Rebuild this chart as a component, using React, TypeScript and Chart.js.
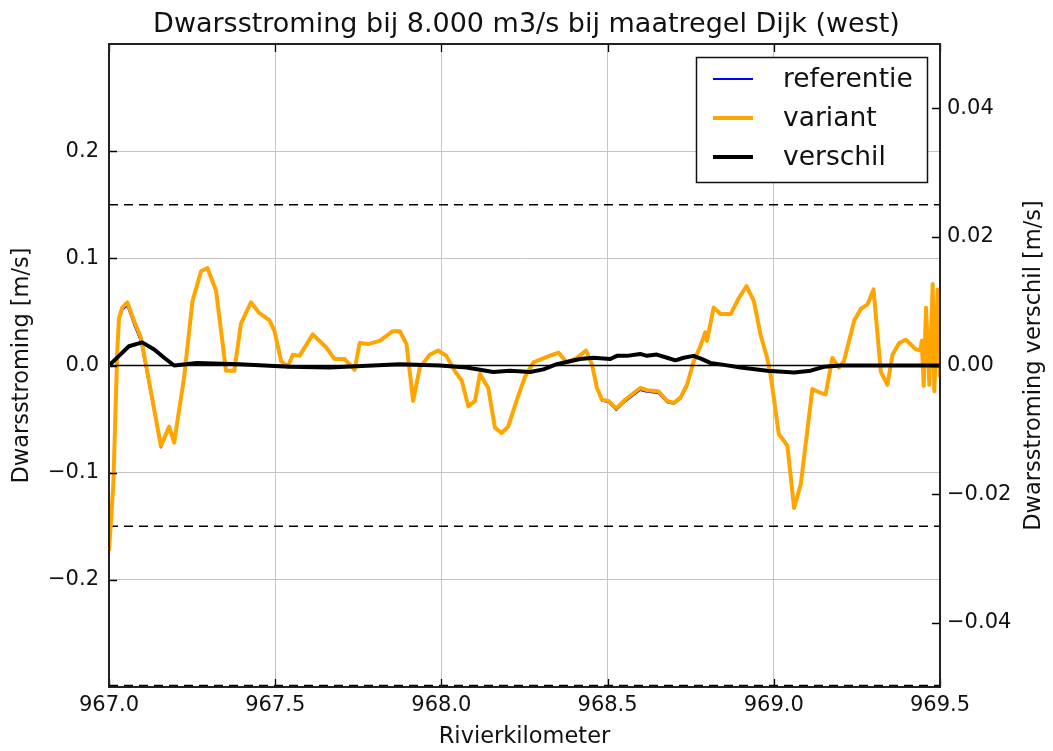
import React, { useEffect, useRef } from 'react';
import { Chart, registerables } from 'chart.js';

Chart.register(...registerables);

// ---- data ----
const kilometers = [
  967.000, 967.013, 967.025, 967.030, 967.040, 967.055, 967.075, 967.096, 967.126, 967.156,
  967.181, 967.196, 967.226, 967.251, 967.277, 967.296, 967.322, 967.352, 967.377, 967.397,
  967.427, 967.452, 967.483, 967.498, 967.518, 967.538, 967.553, 967.573, 967.613, 967.653,
  967.679, 967.709, 967.739, 967.754, 967.779, 967.814, 967.854, 967.875, 967.895, 967.915,
  967.935, 967.965, 967.990, 968.015, 968.040, 968.061, 968.081, 968.101, 968.116, 968.141,
  968.161, 968.181, 968.201, 968.226, 968.251, 968.277, 968.317, 968.352, 968.377, 968.407,
  968.435, 968.453, 968.468, 968.483, 968.503, 968.526, 968.553, 968.598, 968.618, 968.653,
  968.679, 968.699, 968.719, 968.739, 968.759, 968.779, 968.794, 968.799, 968.819, 968.840,
  968.870, 968.895, 968.918, 968.940, 968.960, 968.980, 968.990, 969.015, 969.041, 969.061,
  969.081, 969.116, 969.136, 969.156, 969.176, 969.196, 969.211, 969.242, 969.262, 969.282,
  969.300, 969.322, 969.342, 969.357, 969.377, 969.397, 969.428, 969.441, 969.445, 969.451,
  969.458, 969.468, 969.478, 969.483, 969.493, 969.500,
];

const variant = [
  -0.173, -0.111, 0.014, 0.044, 0.054, 0.059, 0.042, 0.026, -0.024, -0.075,
  -0.057, -0.072, -0.011, 0.060, 0.088, 0.091, 0.070, -0.005, -0.005, 0.039,
  0.059, 0.049, 0.042, 0.032, 0.004, -0.001, 0.010, 0.009, 0.029, 0.017,
  0.006, 0.006, -0.004, 0.021, 0.020, 0.023, 0.032, 0.032, 0.020, -0.033,
  -0.002, 0.010, 0.014, 0.009, -0.005, -0.014, -0.038, -0.033, -0.008, -0.021,
  -0.058, -0.063, -0.057, -0.033, -0.011, 0.003, 0.008, 0.012, 0.003, 0.007,
  0.014, 0.001, -0.021, -0.032, -0.033, -0.040, -0.032, -0.021, -0.023, -0.024,
  -0.033, -0.035, -0.030, -0.018, 0.004, 0.018, 0.031, 0.023, 0.054, 0.048,
  0.048, 0.063, 0.074, 0.060, 0.029, 0.007, -0.008, -0.064, -0.075, -0.133,
  -0.111, -0.022, -0.025, -0.027, 0.007, -0.002, 0.004, 0.042, 0.053, 0.057,
  0.071, -0.006, -0.018, 0.010, 0.021, 0.024, 0.015, 0.014, 0.023, -0.019,
  0.054, -0.018, 0.076, -0.024, 0.071, -0.011,
];

const referentie = [
  -0.173, -0.111, 0.013, 0.0425, 0.052, 0.056, 0.0387, 0.0224, -0.027, -0.0765,
  -0.0576, -0.072, -0.011, 0.060, 0.088, 0.091, 0.070, -0.005, -0.005, 0.039,
  0.059, 0.049, 0.042, 0.032, 0.004, -0.001, 0.010, 0.009, 0.029, 0.017,
  0.006, 0.006, -0.004, 0.021, 0.020, 0.023, 0.032, 0.032, 0.020, -0.033,
  -0.002, 0.010, 0.014, 0.009, -0.005, -0.014, -0.038, -0.033, -0.008, -0.021,
  -0.058, -0.063, -0.057, -0.033, -0.011, 0.003, 0.008, 0.012, 0.003, 0.007,
  0.0128, 0.0, -0.022, -0.033, -0.034, -0.0415, -0.0335, -0.0228, -0.0245, -0.0257,
  -0.0343, -0.0358, -0.0312, -0.0195, 0.0025, 0.017, 0.031, 0.023, 0.054, 0.048,
  0.048, 0.063, 0.074, 0.060, 0.029, 0.007, -0.007, -0.063, -0.074, -0.132,
  -0.110, -0.022, -0.025, -0.027, 0.007, -0.002, 0.004, 0.042, 0.053, 0.057,
  0.071, -0.006, -0.018, 0.010, 0.021, 0.024, 0.015, 0.014, 0.023, -0.019,
  0.054, -0.018, 0.076, -0.024, 0.071, -0.011,
];

const verschilKm = [
  967.000, 967.030, 967.060, 967.100, 967.136, 967.166, 967.196, 967.265, 967.392, 967.543,
  967.663, 967.875, 967.995, 968.076, 968.156, 968.206, 968.267, 968.307, 968.347, 968.417,
  968.457, 968.508, 968.528, 968.558, 968.598, 968.618, 968.648, 968.679, 968.704, 968.729,
  968.759, 968.784, 968.809, 968.850, 968.900, 968.980, 969.061, 969.111, 969.151, 969.201,
  969.500,
];

const verschil = [
  0.0, 0.0015, 0.003, 0.0036, 0.0025, 0.0012, 0.0, 0.0004, 0.0002, -0.0002,
  -0.0003, 0.0002, 0.0, -0.0003, -0.001, -0.0008, -0.001, -0.0006, 0.0002, 0.001,
  0.0012, 0.001, 0.0015, 0.0015, 0.0018, 0.0015, 0.0017, 0.0012, 0.0008, 0.0012,
  0.0015, 0.001, 0.0004, 0.0001, -0.0003, -0.0008, -0.0011, -0.0008, -0.0002, 0.0,
  0.0,
];

const xTicks = [967.0, 967.5, 968.0, 968.5, 969.0, 969.5];
const leftTicks = [-0.2, -0.1, 0.0, 0.1, 0.2];
const rightTicks = [-0.04, -0.02, 0.0, 0.02, 0.04];
const limitLevels = [0.15, -0.15, 0.3, -0.3];
const zeroLevel = 0;

const titleText = 'Dwarsstroming bij 8.000 m3/s bij maatregel Dijk (west)';
const xTitle = 'Rivierkilometer';
const leftTitle = 'Dwarsstroming [m/s]';
const rightTitle = 'Dwarsstroming verschil [m/s]';
const legendLabels = ['referentie', 'variant', 'verschil'];

const FONT = "'DejaVu Sans', sans-serif";
const fmt = (v: number, d: number) => (v < -1e-9 ? '\u2212' : '') + Math.abs(v).toFixed(d);

const framePlugin = {
  id: 'mplFrame',
  afterDraw(chart: any) {
    const { ctx, chartArea } = chart;
    const { left, right, top, bottom } = chartArea;
    const sx = chart.scales.x;
    const sy = chart.scales.y;
    const sy2 = chart.scales.y2;
    ctx.save();
    // inward ticks
    ctx.strokeStyle = '#000';
    ctx.lineWidth = 1.3;
    const tl = 8;
    ctx.beginPath();
    xTicks.forEach((v) => {
      const px = Math.round(sx.getPixelForValue(v)) + 0.5;
      ctx.moveTo(px, bottom); ctx.lineTo(px, bottom - tl);
      ctx.moveTo(px, top); ctx.lineTo(px, top + tl);
    });
    leftTicks.forEach((v) => {
      const py = Math.round(sy.getPixelForValue(v)) + 0.5;
      ctx.moveTo(left, py); ctx.lineTo(left + tl, py);
    });
    rightTicks.forEach((v) => {
      const py = Math.round(sy2.getPixelForValue(v)) + 0.5;
      ctx.moveTo(right, py); ctx.lineTo(right - tl, py);
    });
    ctx.stroke();
    // frame
    ctx.lineWidth = 2;
    ctx.strokeStyle = '#222';
    ctx.strokeRect(left, top, right - left, bottom - top);
    // dashed limit just inside the bottom spine (as in the reference)
    ctx.setLineDash([9, 6]);
    ctx.lineWidth = 1.5;
    ctx.strokeStyle = '#000';
    ctx.beginPath();
    ctx.moveTo(left, bottom - 1.5);
    ctx.lineTo(right, bottom - 1.5);
    ctx.stroke();
    ctx.setLineDash([]);

    // legend
    const lw = 231, lh = 125;
    const lx = right - 13 - lw;
    const ly = top + 13;
    ctx.fillStyle = '#fff';
    ctx.fillRect(lx, ly, lw, lh);
    ctx.lineWidth = 1.5;
    ctx.strokeStyle = '#111';
    ctx.strokeRect(lx + 0.5, ly + 0.5, lw, lh);
    ctx.font = `26.5px ${FONT}`;
    ctx.textBaseline = 'middle';
    ctx.textAlign = 'left';
    legendLabels.forEach((lab, i) => {
      const ds = chart.data.datasets.find((d: any) => d.label === lab);
      if (!ds) return;
      const rowY = ly + 22 + i * 39;
      ctx.strokeStyle = ds.borderColor;
      ctx.lineWidth = ds.borderWidth;
      ctx.beginPath();
      ctx.moveTo(lx + 17, rowY);
      ctx.lineTo(lx + 57, rowY);
      ctx.stroke();
      ctx.fillStyle = '#111';
      ctx.fillText(lab, lx + 87, rowY + 1);
    });

    // right axis title (reads bottom-to-top)
    ctx.save();
    ctx.translate(1034, (top + bottom) / 2);
    ctx.rotate(-Math.PI / 2);
    ctx.font = `22.5px ${FONT}`;
    ctx.fillStyle = '#111';
    ctx.textAlign = 'center';
    ctx.textBaseline = 'middle';
    ctx.fillText(rightTitle, 0, 0);
    ctx.restore();
    ctx.restore();
  },
};

export default function App() {
  const canvasRef = useRef<HTMLCanvasElement | null>(null);

  useEffect(() => {
    if (!canvasRef.current) return;
    const line = (xs: number[], ys: number[]) => xs.map((x, i) => ({ x, y: ys[i] }));
    const flat = (lvl: number) => [{ x: xTicks[0], y: lvl }, { x: xTicks[xTicks.length - 1], y: lvl }];

    const datasets: any[] = [
      { label: 'verschil', data: line(verschilKm, verschil), yAxisID: 'y2', borderColor: '#000000', borderWidth: 4, order: 0 },
      { label: 'nullijn', data: flat(zeroLevel), yAxisID: 'y2', borderColor: '#000000', borderWidth: 1.5, order: 1 },
      { label: 'variant', data: line(kilometers, variant), yAxisID: 'y', borderColor: '#ffa500', borderWidth: 4, order: 2 },
      { label: 'referentie', data: line(kilometers, referentie), yAxisID: 'y', borderColor: '#0000ff', borderWidth: 2, order: 3 },
      ...limitLevels.map((lvl) => ({
        label: 'grens', data: flat(lvl), yAxisID: 'y', borderColor: '#000000', borderWidth: 1.5, borderDash: [9, 6], order: 4,
      })),
    ];
    datasets.forEach((d) => { d.pointRadius = 0; d.tension = 0; d.fill = false; d.borderCapStyle = 'butt'; d.borderJoinStyle = 'round'; });

    const tickFont = { family: FONT, size: 21 };
    const labelFont = { family: FONT, size: 22.5 };
    const chart = new Chart(canvasRef.current, {
      type: 'line',
      data: { datasets },
      plugins: [framePlugin],
      options: {
        animation: false,
        responsive: false,
        devicePixelRatio: 1,
        layout: { padding: 0 },
        plugins: {
          legend: { display: false },
          tooltip: { enabled: false },
          title: {
            display: true,
            text: titleText,
            color: '#111',
            font: { family: FONT, size: 27, weight: 'normal' },
            padding: { top: 9, bottom: 2.6 },
          },
        },
        scales: {
          x: {
            type: 'linear',
            min: xTicks[0],
            max: xTicks[xTicks.length - 1],
            afterBuildTicks: (s: any) => { s.ticks = xTicks.map((v) => ({ value: v })); },
            afterFit: (s: any) => { s.height = 64; },
            ticks: { callback: (v: any) => Number(v).toFixed(1), font: tickFont, color: '#111', padding: 6, maxRotation: 0, autoSkip: false },
            grid: { color: '#c4c4c4', lineWidth: 1, drawTicks: false },
            border: { display: false },
            title: { display: true, text: xTitle, color: '#111', font: labelFont, padding: { top: 0, bottom: 0.5 } },
          },
          y: {
            type: 'linear',
            position: 'left',
            min: -0.3,
            max: 0.3,
            afterBuildTicks: (s: any) => { s.ticks = leftTicks.map((v) => ({ value: v })); },
            afterFit: (s: any) => { s.width = 109; },
            ticks: { callback: (v: any) => fmt(Number(v), 1), font: tickFont, color: '#111', padding: 10 },
            grid: { color: '#c4c4c4', lineWidth: 1, drawTicks: false },
            border: { display: false },
            title: { display: true, text: leftTitle, color: '#111', font: labelFont, padding: { top: 9, bottom: 0 } },
          },
          y2: {
            type: 'linear',
            position: 'right',
            min: -0.05,
            max: 0.05,
            afterBuildTicks: (s: any) => { s.ticks = rightTicks.map((v) => ({ value: v })); },
            afterFit: (s: any) => { s.width = 113; },
            ticks: { callback: (v: any) => fmt(Number(v), 2), font: tickFont, color: '#111', padding: 7 },
            grid: { drawOnChartArea: false, drawTicks: false },
            border: { display: false },
            title: { display: false },
          },
        },
      } as any,
    });
    return () => chart.destroy();
  }, []);

  return (
    <div style={{ position: 'fixed', left: 0, top: 0, width: 1053, height: 751, background: '#fff' }}>
      <canvas ref={canvasRef} width={1053} height={751} style={{ display: 'block' }} />
    </div>
  );
}
